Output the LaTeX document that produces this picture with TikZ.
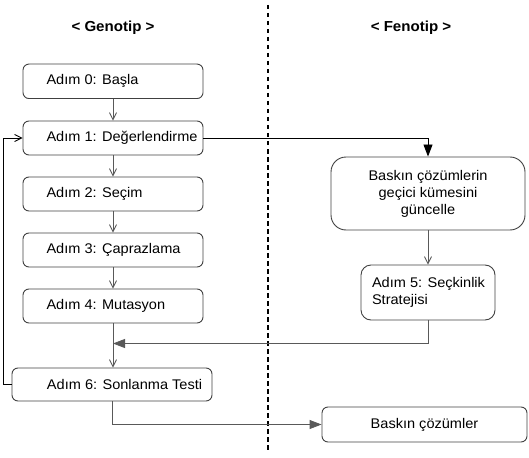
\documentclass[tikz,border=0pt]{standalone}
\usepackage{fontspec}
\setmainfont{Liberation Sans}[FakeStretch=1.04]
\usetikzlibrary{arrows.meta}
\tikzset{
  stepbox/.style={draw=black!75, line width=0.9pt, rounded corners=6pt, inner xsep=0pt, inner ysep=0pt,
    font=\fontsize{14}{17}\selectfont, anchor=center},
  openarr/.style={draw=black!65, line width=0.9pt, -{Straight Barb[length=7pt,width=7pt,line width=0.9pt]}},
  fillarr/.style={draw=black!65, line width=0.9pt, -{Triangle[length=12pt,width=9pt]}},
  title/.style={font=\fontsize{14.5}{17}\selectfont\bfseries},
}
\begin{document}
\begin{tikzpicture}[x=1pt,y=-1pt]
\useasboundingbox (0,0) rectangle (529,457);
\draw[line width=1.3pt, dash pattern=on 4.5pt off 3.5pt] (268,5) -- (268,452);
\node[title] (tg) at (113,27.5) {< Genotip >};
\node[title] (tf) at (411,27.5) {< Fenotip >};

\node[stepbox, minimum width=180pt, minimum height=34.5pt] (a0) at (113,81.3) {\makebox[180pt][l]{\hspace{23.5pt}Adım 0: Başla}};
\node[stepbox, minimum width=180pt, minimum height=34pt] (a1) at (113,138) {\makebox[180pt][l]{\hspace{23.5pt}Adım 1: Değerlendirme}};
\node[stepbox, minimum width=180pt, minimum height=34pt] (a2) at (113,194) {\makebox[180pt][l]{\hspace{23.5pt}Adım 2: Seçim}};
\node[stepbox, minimum width=180pt, minimum height=34pt] (a3) at (113,250) {\makebox[180pt][l]{\hspace{23.5pt}Adım 3: Çaprazlama}};
\node[stepbox, minimum width=180pt, minimum height=34pt] (a4) at (113,306) {\makebox[180pt][l]{\hspace{23.5pt}Adım 4: Mutasyon}};
\node[stepbox, minimum width=200pt, minimum height=33pt] (a6) at (112,384.5) {\makebox[200pt][l]{\hspace{35pt}Adım 6: Sonlanma Testi}};

\node[stepbox, rounded corners=15pt, minimum width=194pt, minimum height=73pt, align=center] (b1) at (428,193.5)
  {Baskın çözümlerin\\geçici kümesini\\güncelle};
\node[stepbox, rounded corners=10pt, minimum width=134pt, minimum height=55pt] (a5) at (428,292.5)
  {\parbox{134pt}{\raggedright\leftskip=11pt Adım 5: Seçkinlik\\Stratejisi}};
\node[stepbox, minimum width=205pt, minimum height=35pt] (bc) at (424.5,424.5) {Baskın çözümler};

\coordinate (m) at (113,343.5);
\coordinate (fb1) at (3,384.5);
\coordinate (fb2) at (3,138);

\draw[openarr] (a0.south) -- (a1.north);
\draw[openarr] (a1.south) -- (a2.north);
\draw[openarr] (a2.south) -- (a3.north);
\draw[openarr] (a3.south) -- (a4.north);
\draw[openarr] (a4.south) -- (a4.south |- a6.north);
\draw[openarr] (b1.south) -- (a5.north);
\draw[fillarr] (a5.south) -- (a5.south |- m) -- (m);
\draw[fillarr, draw=black] (a1.east) -- (b1.north |- a1.east) -- (b1.north);
\draw[openarr, draw=black] (a6.west) -- (fb1) -- (fb2) -- (a1.west);
\draw[fillarr] (a6.south) -- (a6.south |- bc.west) -- (bc.west);
\end{tikzpicture}
\end{document}
